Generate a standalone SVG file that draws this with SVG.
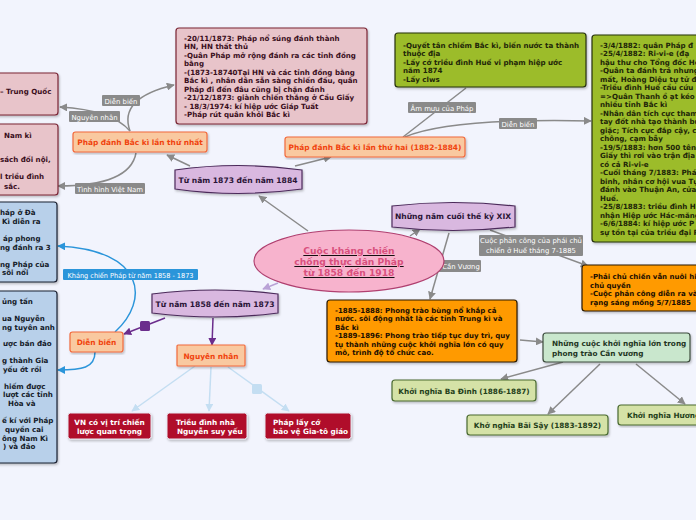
<svg xmlns="http://www.w3.org/2000/svg" width="696" height="520" viewBox="0 0 696 520">
<defs>
<marker id="ag" viewBox="0 0 10 10" refX="9" refY="5" markerWidth="8" markerHeight="8" markerUnits="userSpaceOnUse" orient="auto"><path d="M0,0 L10,5 L0,10 z" fill="#8a8a8a"/></marker>
<marker id="ap" viewBox="0 0 10 10" refX="9" refY="5" markerWidth="8" markerHeight="8" markerUnits="userSpaceOnUse" orient="auto"><path d="M0,0 L10,5 L0,10 z" fill="#6b2d8c"/></marker>
<marker id="alp" viewBox="0 0 10 10" refX="9" refY="5" markerWidth="8" markerHeight="8" markerUnits="userSpaceOnUse" orient="auto"><path d="M0,0 L10,5 L0,10 z" fill="#b9a2d6"/></marker>
<marker id="ab" viewBox="0 0 10 10" refX="9" refY="5" markerWidth="8" markerHeight="8" markerUnits="userSpaceOnUse" orient="auto"><path d="M0,0 L10,5 L0,10 z" fill="#2b95da"/></marker>
<marker id="alb" viewBox="0 0 10 10" refX="9" refY="5" markerWidth="8" markerHeight="8" markerUnits="userSpaceOnUse" orient="auto"><path d="M0,0 L10,5 L0,10 z" fill="#c4def2"/></marker>
<filter id="sh" x="-5%" y="-5%" width="110%" height="120%"><feDropShadow dx="1" dy="1.5" stdDeviation="0.8" flood-color="#000" flood-opacity="0.25"/></filter>
</defs>
<style>
text{font-family:"DejaVu Sans","Liberation Sans",sans-serif;font-weight:bold}
.pk{fill:#e8c4ca;stroke:#7a2535;stroke-width:1.2}
.pkt{font-size:7.1px;fill:#3a0e1c}
.pe{fill:#f9c9a0;stroke:#f26a3c;stroke-width:1.2}
.pet{font-size:7.4px;fill:#f0430e;text-anchor:middle}
.pu{fill:#d9b8e0;stroke:#4b2a5a;stroke-width:1.2}
.put{font-size:7.6px;fill:#2a1436;text-anchor:middle}
.gr{fill:#9cbc2c;stroke:#27300c;stroke-width:1.2}
.grt{font-size:7.1px;fill:#1e2608}
.or{fill:#ff9a00;stroke:#2a1a00;stroke-width:1.2}
.ort{font-size:7px;fill:#1a0e00}
.lg{fill:#c9e7cd;stroke:#3c4c3e;stroke-width:1.2}
.lgt{font-size:7.3px;fill:#243624}
.pg{fill:#d5e2a7;stroke:#4a6a30;stroke-width:1.2}
.pgt{font-size:7.3px;fill:#24401a;text-anchor:middle}
.rd{fill:#b00c2c;stroke:#e8e8f0;stroke-width:1}
.rdt{font-size:7.3px;fill:#ffffff}
.bl{fill:#b8d0ea;stroke:#1a2030;stroke-width:1.2}
.blt{font-size:7.1px;fill:#141a28}
.lb{fill:#8a8a8a}
.lbt{font-size:6.9px;fill:#ffffff;font-weight:normal}
.cg{fill:none;stroke:#8a8a8a;stroke-width:1.5}
</style>
<rect width="696" height="520" fill="#f2f4fd"/>

<g id="connectors">
<path class="cg" d="M308,231 L259,196" marker-end="url(#ag)"/>
<path d="M278,283 L263,289" fill="none" stroke="#b9a2d6" stroke-width="1.5" marker-end="url(#alp)"/>
<path class="cg" d="M410,236 L420,229" marker-end="url(#ag)"/>
<path class="cg" d="M449,233 L430,299" marker-end="url(#ag)"/>
<path class="cg" d="M190,166 L167,155" marker-end="url(#ag)"/>
<path class="cg" d="M295,166 L331,157" marker-end="url(#ag)"/>
<path class="cg" d="M130,131 Q112,110 60,107" marker-end="url(#ag)"/>
<path class="cg" d="M130,131 Q118,98 174,85" marker-end="url(#ag)"/>
<path class="cg" d="M136,153 Q130,186 58,186" marker-end="url(#ag)"/>
<path class="cg" d="M403,137 L466,88"/>
<path class="cg" d="M405,137 Q450,118 591,121" marker-end="url(#ag)"/>
<path class="cg" d="M490,230 L588,266" marker-end="url(#ag)"/>
<path class="cg" d="M520,340 L543,342" marker-end="url(#ag)"/>
<path class="cg" d="M563,362 L501,379" marker-end="url(#ag)"/>
<path class="cg" d="M600,364 L548,414" marker-end="url(#ag)"/>
<path class="cg" d="M636,364 L685,404" marker-end="url(#ag)"/>
<path d="M165,318 L124,334" fill="none" stroke="#6b2d8c" stroke-width="1.5" marker-end="url(#ap)"/>
<rect x="140" y="321" width="10" height="10" rx="1.5" fill="#6b2d8c"/>
<path d="M213,318 L212,345" fill="none" stroke="#6b2d8c" stroke-width="1.5" marker-end="url(#ap)"/>
<path d="M115,332 C150,300 145,250 58,246" fill="none" stroke="#2b95da" stroke-width="1.5" marker-end="url(#ab)"/>
<path d="M95,352 C95,368 82,370 58,370" fill="none" stroke="#2b95da" stroke-width="1.5" marker-end="url(#ab)"/>
<g fill="none" stroke="#c4def2" stroke-width="1.5">
<path d="M195,366 L132,411" marker-end="url(#alb)"/>
<path d="M211,367 L209,411" marker-end="url(#alb)"/>
<path d="M228,367 L289,411" marker-end="url(#alb)"/>
</g>
<rect x="252" y="384" width="10" height="10" rx="1.5" fill="#c4def2"/>
<!-- labels -->
<rect class="lb" x="69" y="111" width="51" height="11" rx="1"/>
<text class="lbt" x="94.5" y="119.5" text-anchor="middle">Nguyên nhân</text>
<rect class="lb" x="102" y="95" width="38" height="11" rx="1"/>
<text class="lbt" x="121" y="103.5" text-anchor="middle">Diễn biến</text>
<rect class="lb" x="75" y="183" width="70" height="11" rx="1"/>
<text class="lbt" x="110" y="191.5" text-anchor="middle">Tình hình Việt Nam</text>
<rect class="lb" x="408" y="102" width="68" height="11" rx="1"/>
<text class="lbt" x="442" y="110.5" text-anchor="middle">Âm mưu của Pháp</text>
<rect class="lb" x="499" y="118" width="38" height="11" rx="1"/>
<text class="lbt" x="518" y="126.5" text-anchor="middle">Diễn biến</text>
<rect class="lb" x="479" y="235" width="104" height="21" rx="1"/>
<text class="lbt" x="531" y="243" text-anchor="middle">Cuộc phản công của phái chủ</text>
<text class="lbt" x="531" y="252.5" text-anchor="middle">chiến ở Huế tháng 7-1885</text>
<rect class="lb" x="415" y="260" width="66" height="12" rx="1"/>
<text class="lbt" x="461" y="268.8" text-anchor="middle">Cần Vương</text>
<rect x="63" y="269" width="135" height="11" rx="1" fill="#2b95da"/>
<text class="lbt" x="130.5" y="277.5" text-anchor="middle" textLength="126" lengthAdjust="spacingAndGlyphs">Kháng chiến Pháp từ năm 1858 - 1873</text>
</g>

<g id="root">
<ellipse cx="349" cy="261" rx="95" ry="31" fill="#f7b3cd" stroke="#b04070" stroke-width="1.2"/>
<g text-anchor="middle" text-decoration="underline">
<text x="349" y="254" style="font-size:9.2px;fill:#d9507e">Cuộc kháng chiến</text>
<text x="349" y="265" style="font-size:9.2px;fill:#d9507e">chống thực dân Pháp</text>
<text x="349" y="276" style="font-size:9.2px;fill:#d9507e">từ 1858 đến 1918</text>
</g>
</g>

<g id="n1873">
<path class="pu" filter="url(#sh)" d="M175,170 Q238,161 302,170 L302,189 Q238,198 175,189 Z"/>
<text class="put" x="238" y="182.5">Từ năm 1873 đến năm 1884</text>
</g>
<g id="n1858">
<path class="pu" filter="url(#sh)" d="M152,294 Q215,286 278,294 L278,313 Q215,321 152,313 Z"/>
<text class="put" x="215" y="306.5">Từ năm 1858 đến năm 1873</text>
</g>
<g id="nxix">
<path class="pu" filter="url(#sh)" d="M392,206 Q453,199 515,206 L515,227 Q453,234 392,227 Z"/>
<text class="put" x="453" y="219">Những năm cuối thế kỷ XIX</text>
</g>

<g id="lan1">
<rect class="pe" filter="url(#sh)" x="73" y="132" width="134" height="20" rx="2.5"/>
<text class="pet" x="140" y="145">Pháp đánh Bắc kì lần thứ nhất</text>
</g>
<g id="lan2">
<rect class="pe" filter="url(#sh)" x="285" y="137" width="180" height="20" rx="2.5"/>
<text class="pet" x="375" y="150">Pháp đánh Bắc kì lần thứ hai (1882-1884)</text>
</g>

<g id="pk1">
<rect class="pk" filter="url(#sh)" x="-5" y="73" width="63" height="42" rx="3"/>
<text class="pkt" x="0" y="94">– Trung Quốc</text>
</g>
<g id="pk2">
<rect class="pk" filter="url(#sh)" x="-5" y="124" width="63" height="71" rx="3"/>
<text class="pkt" x="4" y="138">Nam kì</text>
<text class="pkt" x="0" y="162">sách đối nội,</text>
<text class="pkt" x="0" y="179">l triều đình</text>
<text class="pkt" x="4" y="189">sắc.</text>
</g>
<g id="pk3">
<rect class="pk" filter="url(#sh)" x="176" y="28" width="191" height="96" rx="3"/>
<text class="pkt" x="184" y="40.5">-20/11/1873: Pháp nổ súng đánh thành</text>
<text class="pkt" x="184" y="49">HN, HN thất thủ</text>
<text class="pkt" x="184" y="57.5">-Quân Pháp mở rộng đánh ra các tỉnh đồng</text>
<text class="pkt" x="184" y="66">bằng</text>
<text class="pkt" x="184" y="74.5">-(1873-18740Tại HN và các tỉnh đồng bằng</text>
<text class="pkt" x="184" y="83">Bắc kì , nhân dân sẵn sàng chiến đấu, quân</text>
<text class="pkt" x="184" y="91.5">Pháp đi đến đâu cũng bị chặn đánh</text>
<text class="pkt" x="184" y="100">-21/12/1873: giành chiến thắng ở Cầu Giấy</text>
<text class="pkt" x="184" y="108.5">- 18/3/1974: kí hiệp ước Giáp Tuất</text>
<text class="pkt" x="184" y="117">-Pháp rút quân khỏi Bắc kì</text>
</g>

<g id="gr1">
<rect class="gr" filter="url(#sh)" x="395" y="33" width="191" height="54" rx="3"/>
<text class="grt" x="403" y="47.5">-Quyết tân chiếm Bắc kì, biến nước ta thành</text>
<text class="grt" x="403" y="56">thuộc địa</text>
<text class="grt" x="403" y="64.5">-Lấy cớ triều đình Huế vi phạm hiệp ước</text>
<text class="grt" x="403" y="73">năm 1874</text>
<text class="grt" x="403" y="81.5">-Lấy clws</text>
</g>
<g id="gr2">
<rect class="gr" filter="url(#sh)" x="592" y="35" width="120" height="207" rx="3"/>
<text class="grt" x="600" y="47.5">-3/4/1882: quân Pháp đ</text>
<text class="grt" x="600" y="56">-25/4/1882: Ri-vi-e (đạ</text>
<text class="grt" x="600" y="64.5">hậu thư cho Tổng đốc Ho</text>
<text class="grt" x="600" y="73">-Quân ta đánh trả nhưng</text>
<text class="grt" x="600" y="81.5">mất, Hoàng Diệu tự tử để</text>
<text class="grt" x="600" y="90">-Triều đình Huế cầu cứu</text>
<text class="grt" x="600" y="98.5">=&gt;Quân Thanh ồ ạt kéo</text>
<text class="grt" x="600" y="107">nhiều tỉnh Bắc kì</text>
<text class="grt" x="600" y="115.5">-Nhân dân tích cực tham</text>
<text class="grt" x="600" y="124">tay đốt nhà tạo thành bú</text>
<text class="grt" x="600" y="132.5">giặc; Tích cực đắp cậy, cả</text>
<text class="grt" x="600" y="141">chông, cạm bẫy</text>
<text class="grt" x="600" y="149.5">-19/5/1883: hơn 500 tên</text>
<text class="grt" x="600" y="158">Giấy thì rơi vào trận địa</text>
<text class="grt" x="600" y="166.5">có cả Ri-vi-e</text>
<text class="grt" x="600" y="175">-Cuối tháng 7/1883: Phá</text>
<text class="grt" x="600" y="183.5">binh, nhân cơ hội vua Tự</text>
<text class="grt" x="600" y="192">đánh vào Thuận An, cửa</text>
<text class="grt" x="600" y="200.5">Huế.</text>
<text class="grt" x="600" y="209">-25/8/1883: triều đình H</text>
<text class="grt" x="600" y="217.5">nhận Hiệp ước Hác-măng</text>
<text class="grt" x="600" y="226">-6/6/1884: kí hiệp ước P</text>
<text class="grt" x="600" y="234.5">sự tồn tại của triều đại P</text>
</g>

<g id="or1">
<rect class="or" filter="url(#sh)" x="582" y="265" width="130" height="46" rx="3"/>
<text class="ort" x="590" y="279">-Phải chủ chiến vẫn nuôi hi</text>
<text class="ort" x="590" y="287.5">chủ quyền</text>
<text class="ort" x="590" y="296">-Cuộc phản công diễn ra và</text>
<text class="ort" x="590" y="304.5">rạng sáng mồng 5/7/1885</text>
</g>
<g id="or2">
<rect class="or" filter="url(#sh)" x="327" y="300" width="190" height="62" rx="3"/>
<text class="ort" x="335" y="312.5">-1885-1888: Phong trào bùng nổ khắp cả</text>
<text class="ort" x="335" y="321">nước. sôi động nhất là các tỉnh Trung kì và</text>
<text class="ort" x="335" y="329.5">Bắc kì</text>
<text class="ort" x="335" y="338">-1889-1896: Phong trào tiếp tục duy trì, quy</text>
<text class="ort" x="335" y="346.5">tụ thành những cuộc khởi nghĩa lớn có quy</text>
<text class="ort" x="335" y="355">mô, trình độ tổ chức cao.</text>
</g>

<g id="kn">
<rect class="lg" filter="url(#sh)" x="543" y="333" width="147" height="29" rx="3"/>
<text class="lgt" x="552" y="346">Những cuộc khởi nghĩa lớn trong</text>
<text class="lgt" x="552" y="355.5">phong trào Cần vương</text>
</g>
<g id="badinh">
<rect class="pg" filter="url(#sh)" x="392" y="380" width="144" height="21" rx="3"/>
<text class="pgt" x="464" y="393.5">Khởi nghĩa Ba Đình (1886-1887)</text>
</g>
<g id="baisay">
<rect class="pg" filter="url(#sh)" x="467" y="415" width="141" height="20" rx="3"/>
<text class="pgt" x="537.5" y="428">Khở nghĩa Bãi Sậy (1883-1892)</text>
</g>
<g id="huongkhe">
<rect class="pg" filter="url(#sh)" x="618" y="405" width="100" height="20" rx="3"/>
<text class="pgt" x="627" y="418" style="text-anchor:start">Khởi nghĩa Hương</text>
</g>

<g id="dienbien58">
<rect class="pe" filter="url(#sh)" x="70" y="332" width="53" height="20" rx="2.5"/>
<text class="pet" x="96.5" y="345">Diễn biến</text>
</g>
<g id="nguyennhan58">
<rect class="pe" filter="url(#sh)" x="177" y="345" width="68" height="21" rx="1"/>
<text class="pet" x="211" y="358.5">Nguyên nhân</text>
</g>

<g id="bl1">
<rect class="bl" filter="url(#sh)" x="-5" y="202" width="62" height="80" rx="3"/>
<text class="blt" x="0" y="215">háp ở Đà</text>
<text class="blt" x="2" y="224">Kì diễn ra</text>
<text class="blt" x="3" y="241">áp phong</text>
<text class="blt" x="0" y="250">ng đánh ra 3</text>
<text class="blt" x="0" y="267">ng Pháp của</text>
<text class="blt" x="2" y="275">sôi nổi</text>
</g>
<g id="bl2">
<rect class="bl" filter="url(#sh)" x="-5" y="291" width="62" height="172" rx="3"/>
<text class="blt" x="2" y="304">ủng tấn</text>
<text class="blt" x="2" y="321">ua Nguyễn</text>
<text class="blt" x="2" y="330">ng tuyên anh</text>
<text class="blt" x="3" y="346">ược bán đảo</text>
<text class="blt" x="2" y="363">g thành Gia</text>
<text class="blt" x="3" y="372">yếu ớt rồi</text>
<text class="blt" x="4" y="389">hiếm được</text>
<text class="blt" x="3" y="397">lượt các tỉnh</text>
<text class="blt" x="8" y="406">Hòa và</text>
<text class="blt" x="2" y="423">ế kí với Pháp</text>
<text class="blt" x="5" y="432">quyền cai</text>
<text class="blt" x="2" y="441">ông Nam Kì</text>
<text class="blt" x="3" y="449">) và đảo</text>
</g>

<g id="red1">
<rect class="rd" filter="url(#sh)" x="68" y="413" width="83" height="26" rx="2.5"/>
<text class="rdt" x="109.5" y="424.5" text-anchor="middle">VN có vị trí chiến</text>
<text class="rdt" x="109.5" y="433.5" text-anchor="middle">lược quan trọng</text>
</g>
<g id="red2">
<rect class="rd" filter="url(#sh)" x="167" y="413" width="80" height="26" rx="2.5"/>
<text class="rdt" x="176" y="424.5">Triều đình nhà</text>
<text class="rdt" x="177" y="433.5">Nguyễn suy yếu</text>
</g>
<g id="red3">
<rect class="rd" filter="url(#sh)" x="265" y="413" width="86" height="26" rx="2.5"/>
<text class="rdt" x="273" y="424.5">Pháp lấy cớ</text>
<text class="rdt" x="273" y="433.5">bảo vệ Gia-tô giáo</text>
</g>
</svg>
